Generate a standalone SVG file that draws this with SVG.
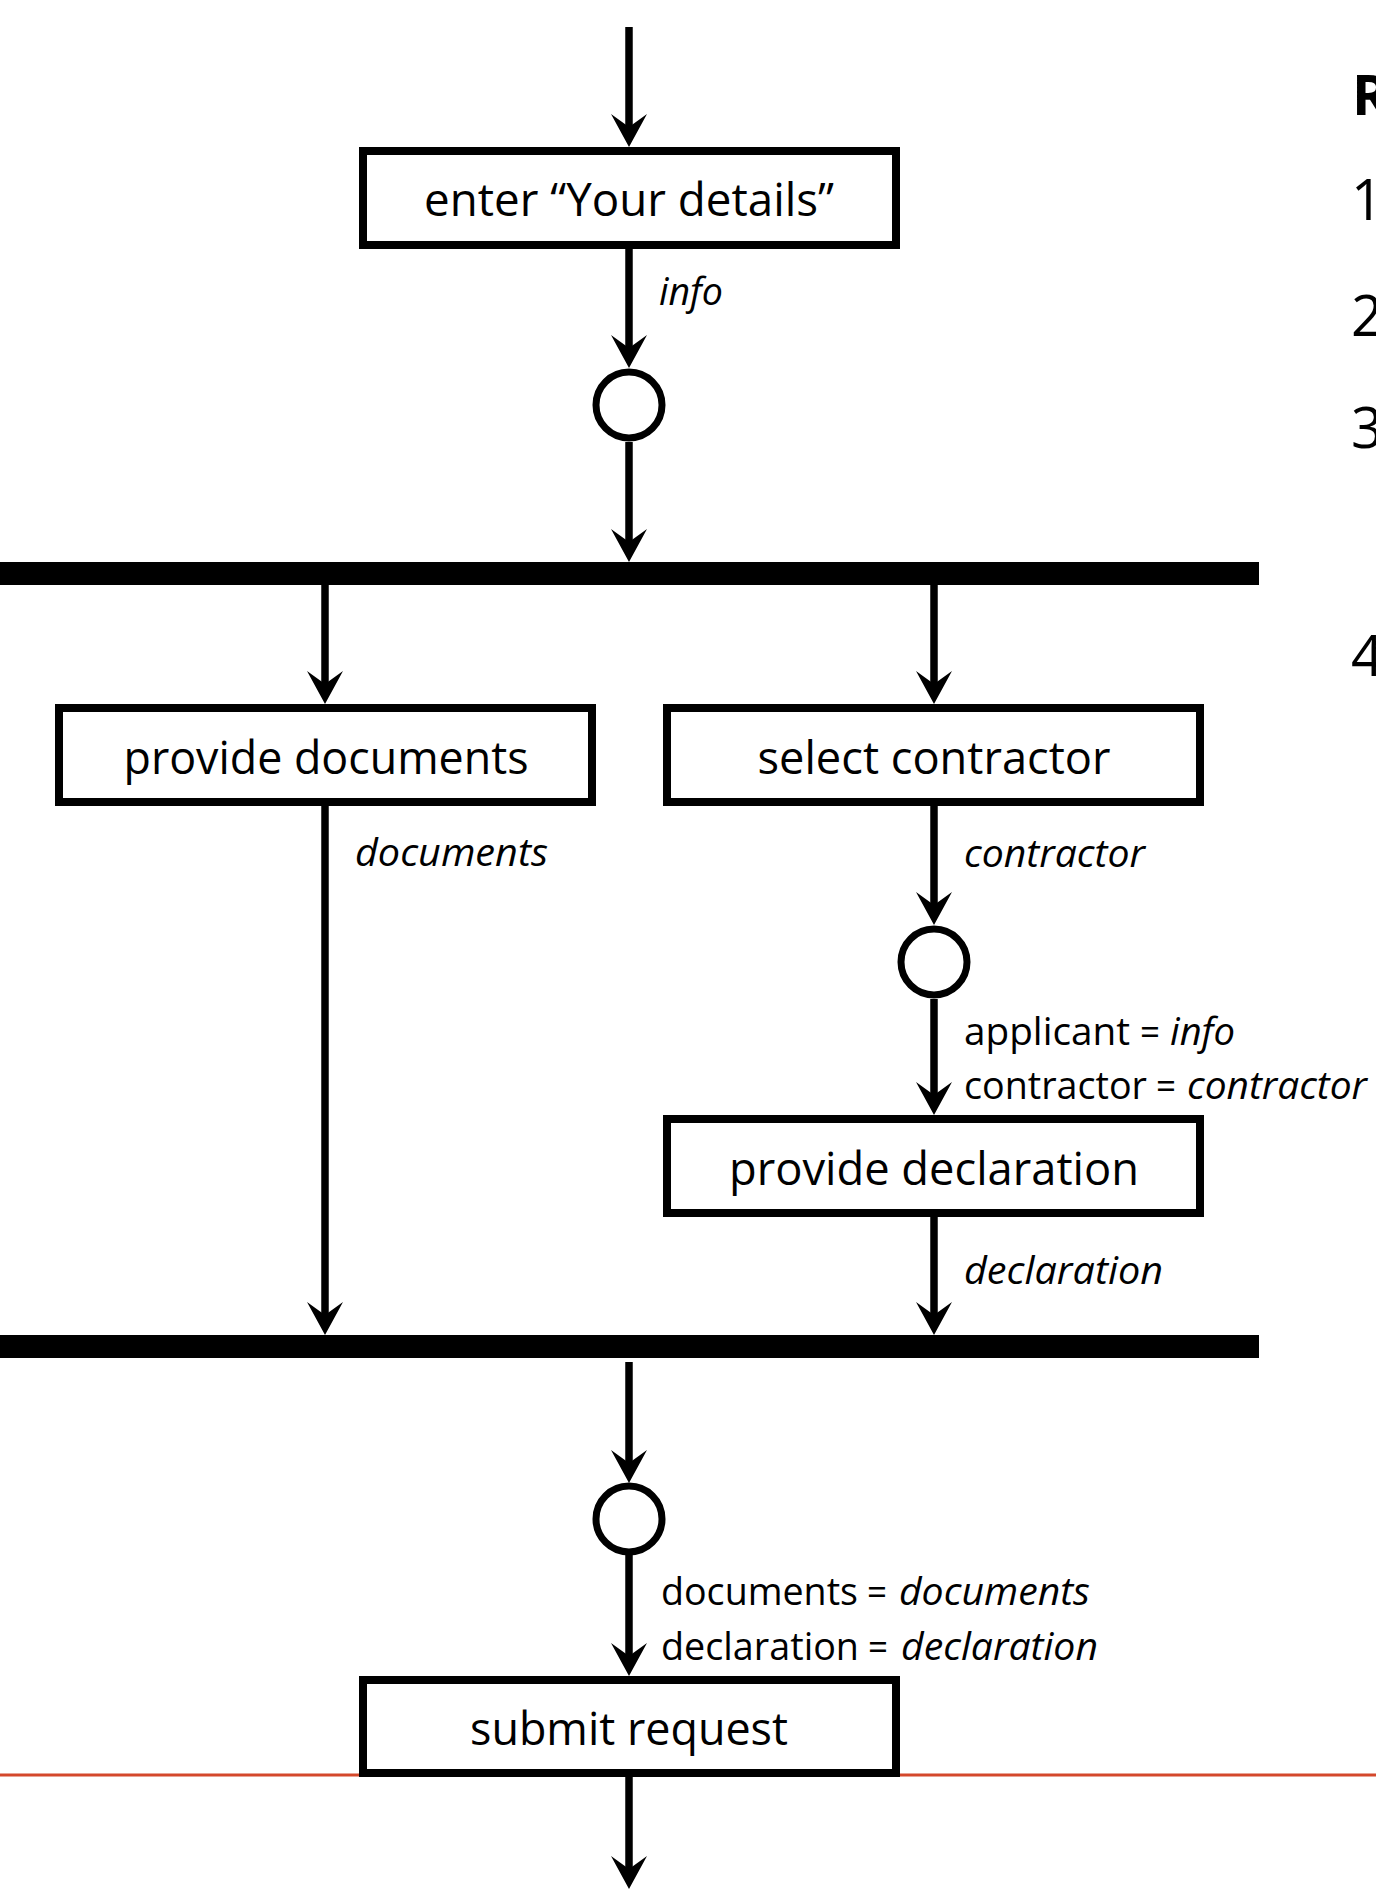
<svg xmlns="http://www.w3.org/2000/svg" width="1376" height="1890" viewBox="0 0 1376 1890">
<style>
  text { font-family: "Open Sans", "Noto Sans", "Liberation Sans", sans-serif; fill: #000; }
  .lbl { font-size: 45px; }
  .sm { font-size: 39px; }
  .box { fill: #fff; stroke: #000; stroke-width: 8; }
  .node-c { fill: #fff; stroke: #000; stroke-width: 7; }
  .bar { fill: #000; }
  .edge { stroke: #000; stroke-width: 7.5; fill: none; marker-end: url(#ah); }
  .it { font-style: italic; }
  .side { font-size: 56px; }
</style>
<defs>
  <marker id="ah" markerUnits="userSpaceOnUse" viewBox="-14 -19 35 38" markerWidth="35" markerHeight="38" refX="0" refY="0" orient="auto">
    <path d="M20,0 L-13,-18 L0,0 L-13,18 Z" fill="#000"/>
  </marker>
</defs>
<rect width="1376" height="1890" fill="#fff"/>
<line id="redline" x1="0" y1="1775" x2="1376" y2="1775" stroke="#d4482b" stroke-width="3"/>
<g id="connectors">
  <line class="edge" x1="629" y1="27" x2="629" y2="127"/>
  <line class="edge" x1="629" y1="249" x2="629" y2="348"/>
  <line class="edge" x1="629" y1="442" x2="629" y2="542"/>
  <line class="edge" x1="325" y1="584" x2="325" y2="684"/>
  <line class="edge" x1="934" y1="584" x2="934" y2="684"/>
  <line class="edge" x1="934" y1="806" x2="934" y2="905"/>
  <line class="edge" x1="934" y1="999" x2="934" y2="1095"/>
  <line class="edge" x1="325" y1="806" x2="325" y2="1315"/>
  <line class="edge" x1="934" y1="1217" x2="934" y2="1315"/>
  <line class="edge" x1="629" y1="1362" x2="629" y2="1463"/>
  <line class="edge" x1="629" y1="1555" x2="629" y2="1656"/>
  <line class="edge" x1="629" y1="1777" x2="629" y2="1869"/>
</g>
<g id="connector-labels">
  <text class="sm it" x="659" y="305" textLength="64" lengthAdjust="spacingAndGlyphs">info</text>
  <text class="sm it" x="355" y="866" textLength="193" lengthAdjust="spacingAndGlyphs">documents</text>
  <text class="sm it" x="964" y="867" textLength="181" lengthAdjust="spacingAndGlyphs">contractor</text>

  <text class="sm" x="964" y="1045" textLength="166" lengthAdjust="spacingAndGlyphs">applicant</text>
  <text class="sm" x="1140" y="1045" textLength="20" lengthAdjust="spacingAndGlyphs">=</text>
  <text class="sm it" x="1170" y="1045" textLength="65" lengthAdjust="spacingAndGlyphs">info</text>

  <text class="sm" x="964" y="1099" textLength="183" lengthAdjust="spacingAndGlyphs">contractor</text>
  <text class="sm" x="1156" y="1099" textLength="20" lengthAdjust="spacingAndGlyphs">=</text>
  <text class="sm it" x="1187" y="1099" textLength="180" lengthAdjust="spacingAndGlyphs">contractor</text>

  <text class="sm it" x="964" y="1284" textLength="199" lengthAdjust="spacingAndGlyphs">declaration</text>

  <text class="sm" x="661" y="1605" textLength="197" lengthAdjust="spacingAndGlyphs">documents</text>
  <text class="sm" x="867" y="1605" textLength="20" lengthAdjust="spacingAndGlyphs">=</text>
  <text class="sm it" x="899" y="1605" textLength="191" lengthAdjust="spacingAndGlyphs">documents</text>

  <text class="sm" x="661" y="1660" textLength="198" lengthAdjust="spacingAndGlyphs">declaration</text>
  <text class="sm" x="868" y="1660" textLength="20" lengthAdjust="spacingAndGlyphs">=</text>
  <text class="sm it" x="901" y="1660" textLength="197" lengthAdjust="spacingAndGlyphs">declaration</text>
</g>
<g id="enter-details">
  <rect class="box" x="363" y="151" width="533" height="94"/>
  <text class="lbl" x="629" y="216" text-anchor="middle" textLength="410" lengthAdjust="spacingAndGlyphs">enter “Your details”</text>
</g>
<g id="merge1"><circle class="node-c" cx="629" cy="405" r="33"/></g>
<g id="fork"><rect class="bar" x="0" y="562" width="1259" height="23"/></g>
<g id="provide-documents">
  <rect class="box" x="59" y="708" width="533" height="94"/>
  <text class="lbl" x="326" y="774" text-anchor="middle" textLength="405" lengthAdjust="spacingAndGlyphs">provide documents</text>
</g>
<g id="select-contractor">
  <rect class="box" x="667" y="708" width="533" height="94"/>
  <text class="lbl" x="934" y="774" text-anchor="middle" textLength="353" lengthAdjust="spacingAndGlyphs">select contractor</text>
</g>
<g id="merge2"><circle class="node-c" cx="934" cy="962" r="33"/></g>
<g id="provide-declaration">
  <rect class="box" x="667" y="1119" width="533" height="94"/>
  <text class="lbl" x="934" y="1185" text-anchor="middle" textLength="410" lengthAdjust="spacingAndGlyphs">provide declaration</text>
</g>
<g id="join"><rect class="bar" x="0" y="1335" width="1259" height="23"/></g>
<g id="merge3"><circle class="node-c" cx="629" cy="1519" r="33"/></g>
<g id="submit-request">
  <rect class="box" x="363" y="1680" width="533" height="93"/>
  <text class="lbl" x="629" y="1745" text-anchor="middle" textLength="318" lengthAdjust="spacingAndGlyphs">submit request</text>
</g>
<g id="side-list">
  <text class="side" x="1352" y="115" font-weight="bold">R</text>
  <text class="side" x="1351" y="220">1</text>
  <text class="side" x="1351" y="336">2</text>
  <text class="side" x="1351" y="448">3</text>
  <text class="side" x="1351" y="676">4</text>
</g>
</svg>
